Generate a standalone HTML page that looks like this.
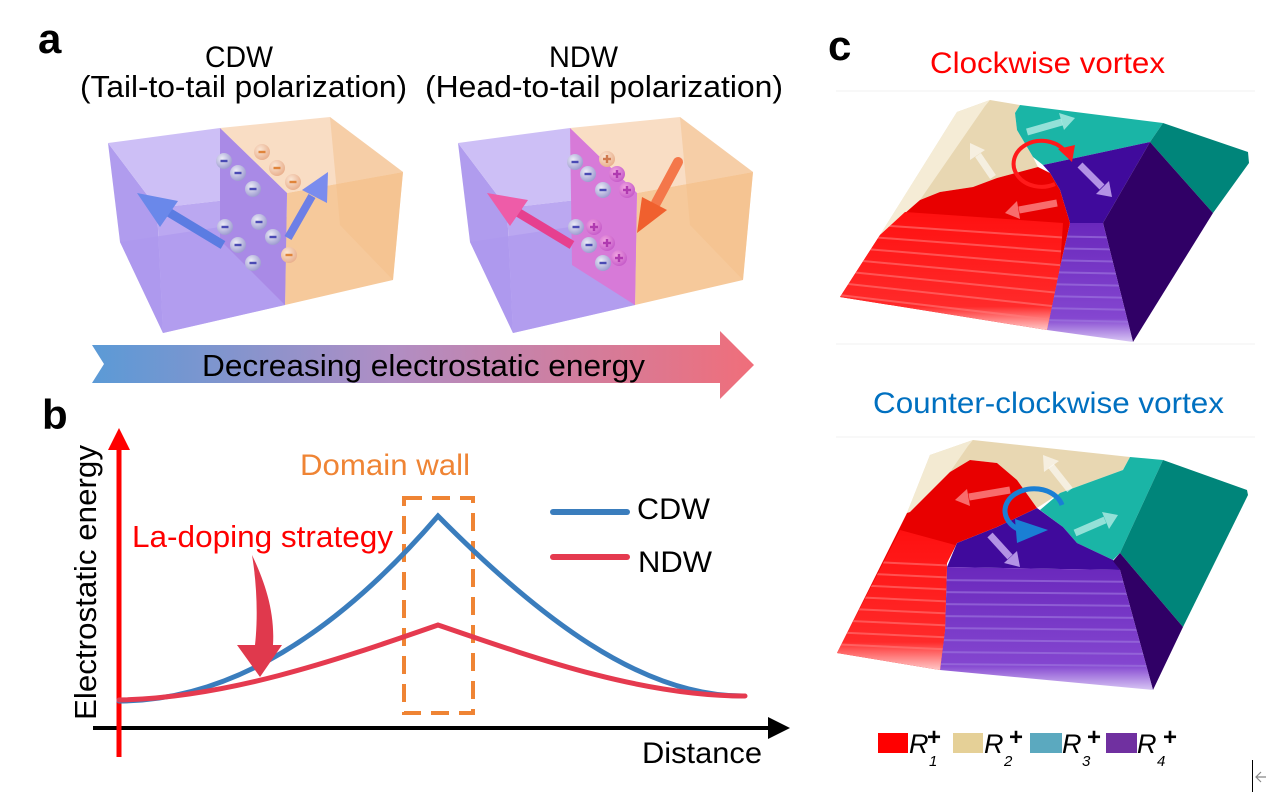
<!DOCTYPE html>
<html>
<head>
<meta charset="utf-8">
<style>
html,body{margin:0;padding:0;background:#fff;}
svg{display:block;}
text{font-family:"Liberation Sans",Arial,sans-serif;}
</style>
</head>
<body>
<svg width="1267" height="801" viewBox="0 0 1267 801" xmlns="http://www.w3.org/2000/svg">
<defs>
  <linearGradient id="bigArrow" x1="92" y1="0" x2="754" y2="0" gradientUnits="userSpaceOnUse">
    <stop offset="0" stop-color="#5b9ad6"/>
    <stop offset="0.45" stop-color="#b08ec4"/>
    <stop offset="1" stop-color="#f06e7a"/>
  </linearGradient>
  <radialGradient id="gb" cx="0.38" cy="0.35" r="0.7">
    <stop offset="0" stop-color="#ececf7"/>
    <stop offset="1" stop-color="#9a98cf"/>
  </radialGradient>
  <radialGradient id="go" cx="0.38" cy="0.35" r="0.7">
    <stop offset="0" stop-color="#fbe6d4"/>
    <stop offset="1" stop-color="#e8ad8a"/>
  </radialGradient>
  <radialGradient id="gp" cx="0.38" cy="0.35" r="0.7">
    <stop offset="0" stop-color="#f2a6e2"/>
    <stop offset="1" stop-color="#c458c8"/>
  </radialGradient>
  <g id="bm"><circle r="8" fill="url(#gb)"/><rect x="-3.5" y="-1.2" width="7" height="2.4" fill="#4a4ab4"/></g>
  <g id="om"><circle r="8" fill="url(#go)"/><rect x="-3.5" y="-1.2" width="7" height="2.4" fill="#e0843a"/></g>
  <g id="pp"><circle r="8" fill="url(#gp)"/><rect x="-4" y="-1.2" width="8" height="2.4" fill="#b03ab0"/><rect x="-1.2" y="-4" width="2.4" height="8" fill="#b03ab0"/></g>
  <g id="op"><circle r="8" fill="url(#go)"/><rect x="-4" y="-1.2" width="8" height="2.4" fill="#d07a50"/><rect x="-1.2" y="-4" width="2.4" height="8" fill="#d07a50"/></g>
  <linearGradient id="redLow" x1="0" y1="0" x2="0" y2="1">
    <stop offset="0" stop-color="#ff1010"/>
    <stop offset="0.8" stop-color="#ff2a2a"/>
    <stop offset="1" stop-color="#ffc8c8"/>
  </linearGradient>
  <linearGradient id="purLow" x1="0" y1="0" x2="0" y2="1">
    <stop offset="0" stop-color="#6a28bc"/>
    <stop offset="0.8" stop-color="#8446d0"/>
    <stop offset="1" stop-color="#d8c6f4"/>
  </linearGradient>
  <clipPath id="cRedTop"><path d="M905,212 L1063,223 L1060,267 L1047,330 L840,297 L880,235 Z"/></clipPath>
  <clipPath id="cPurTop"><path d="M1070,223 L1103,223 L1133,342 L1047,330 L1060,267 Z"/></clipPath>
  <clipPath id="cRedBot"><path d="M900,530 L955,545 L947,563 L945,630 L940,670 L837,653 Z"/></clipPath>
  <clipPath id="cPurBot"><path d="M947,567 L1120,570 L1153,690 L940,670 L945,630 Z"/></clipPath>
  <g id="box">
    <polygon points="108,143 157,208 163,333 120,242" fill="#b09cee"/>
    <polygon points="108,143 220,128 287,193 157,208" fill="#cdbff6"/>
    <polygon points="157,208 287,193 285,305 163,333" fill="#bba8f1"/>
    <polygon points="120,242 287,217 285,305 163,333" fill="#ae98ee" opacity="0.7"/>
    <polygon points="220,128 330,117 403,172 287,193" fill="#f9ddc4"/>
    <polygon points="287,193 403,172 393,280 285,305" fill="#f6c99b"/>
    <polygon points="330,117 403,172 393,280 340,225" fill="#f3c08a" opacity="0.5"/>
  </g>
</defs>

<rect width="1267" height="801" fill="#fff"/>

<!-- ============ Panel a ============ -->
<text x="38" y="53" font-size="42" font-weight="bold" fill="#000">a</text>
<text x="205" y="67" font-size="30" fill="#000" textLength="68" lengthAdjust="spacingAndGlyphs">CDW</text>
<text x="80" y="97" font-size="31" fill="#000" textLength="327" lengthAdjust="spacingAndGlyphs">(Tail-to-tail polarization)</text>
<text x="549" y="67" font-size="30" fill="#000" textLength="69" lengthAdjust="spacingAndGlyphs">NDW</text>
<text x="425" y="97" font-size="31" fill="#000" textLength="358" lengthAdjust="spacingAndGlyphs">(Head-to-tail polarization)</text>

<!-- CDW box -->
<g>
  <use href="#box"/>
  <polygon points="220,128 287,193 285,305 220,240" fill="#a98ae6"/>
  <use href="#om" x="262" y="152"/>
  <use href="#om" x="277" y="168"/>
  <use href="#om" x="293" y="182"/>
  <use href="#bm" x="224" y="161"/>
  <use href="#bm" x="238" y="173"/>
  <use href="#bm" x="253" y="189"/>
  <use href="#bm" x="259" y="222"/>
  <use href="#bm" x="273" y="237"/>
  <use href="#om" x="289" y="255"/>
  <use href="#bm" x="225" y="227"/>
  <use href="#bm" x="238" y="245"/>
  <use href="#bm" x="253" y="263"/>
  <line x1="223" y1="245" x2="165" y2="210" stroke="#5b7ce2" stroke-width="9"/>
  <polygon points="137,193 178,201 160,227" fill="#6a88ea"/>
  <line x1="288" y1="238" x2="312" y2="196" stroke="#6d7fe6" stroke-width="8"/>
  <polygon points="328,172 302,190 327,203" fill="#7a8cee"/>
</g>

<!-- NDW box -->
<g>
  <use href="#box" x="350"/>
  <polygon points="570,128 637,193 635,305 572,265" fill="#d77ad8"/>
  <use href="#op" x="607" y="159"/>
  <use href="#pp" x="617" y="174"/>
  <use href="#pp" x="627" y="190"/>
  <use href="#bm" x="575" y="162"/>
  <use href="#bm" x="588" y="174"/>
  <use href="#bm" x="603" y="190"/>
  <use href="#pp" x="594" y="227"/>
  <use href="#pp" x="607" y="243"/>
  <use href="#pp" x="619" y="258"/>
  <use href="#bm" x="576" y="227"/>
  <use href="#bm" x="589" y="245"/>
  <use href="#bm" x="603" y="263"/>
  <line x1="572" y1="245" x2="514" y2="210" stroke="#e6408f" stroke-width="9"/>
  <polygon points="487,193 528,200 510,226" fill="#ee5ca8"/>
  <line x1="678" y1="162" x2="656" y2="203" stroke="#f4774a" stroke-width="10" stroke-linecap="round"/>
  <polygon points="637,233 642,197 667,210" fill="#f0602e"/>
</g>

<!-- big gradient arrow -->
<polygon points="92,345 720,345 720,331 754,365 720,399 720,383 92,383 104,364" fill="url(#bigArrow)"/>
<text x="202" y="376" font-size="31" fill="#000" textLength="443" lengthAdjust="spacingAndGlyphs">Decreasing electrostatic energy</text>

<!-- ============ Panel b ============ -->
<text x="42" y="429" font-size="42" font-weight="bold" fill="#000">b</text>

<line x1="93" y1="728" x2="770" y2="728" stroke="#000" stroke-width="4"/>
<polygon points="768,717 768,739 790,728" fill="#000"/>
<line x1="119" y1="447" x2="119" y2="757" stroke="#ff0000" stroke-width="5"/>
<polygon points="108,450 130,450 119,428" fill="#ff0000"/>

<text transform="translate(96,720) rotate(-90)" font-size="31" fill="#000" textLength="275" lengthAdjust="spacingAndGlyphs">Electrostatic energy</text>

<rect x="404" y="498" width="69" height="215" fill="none" stroke="#ef8434" stroke-width="4" stroke-dasharray="18 10"/>
<text x="300" y="475" font-size="30" fill="#ef8434" textLength="170" lengthAdjust="spacingAndGlyphs">Domain wall</text>

<path d="M119,701 Q278.5,701 438,516 C539,618 641,696 742,696" fill="none" stroke="#3a7dbd" stroke-width="5" stroke-linecap="round"/>
<path d="M119,700 C225,698 332,662 438,625 C540,660 643,696 745,696" fill="none" stroke="#e53a4f" stroke-width="5" stroke-linecap="round"/>

<path d="M252,555 C265,582 275,612 273,645 L282,645 L260,677 L237,645 L255,645 C258,618 257,585 252,555 Z" fill="#e0394d"/>
<text x="132" y="547" font-size="31" fill="#ff0000" textLength="261" lengthAdjust="spacingAndGlyphs">La-doping strategy</text>

<line x1="553" y1="512" x2="627" y2="512" stroke="#3a7dbd" stroke-width="6" stroke-linecap="round"/>
<text x="637" y="519" font-size="30" fill="#000" textLength="73" lengthAdjust="spacingAndGlyphs">CDW</text>
<line x1="553" y1="557" x2="627" y2="557" stroke="#e53a4f" stroke-width="6" stroke-linecap="round"/>
<text x="638" y="572" font-size="30" fill="#000" textLength="74" lengthAdjust="spacingAndGlyphs">NDW</text>

<text x="642" y="763" font-size="30" fill="#000" textLength="120" lengthAdjust="spacingAndGlyphs">Distance</text>

<!-- ============ Panel c ============ -->
<text x="828" y="60" font-size="42" font-weight="bold" fill="#000">c</text>
<text x="930" y="73" font-size="30" fill="#ff0000" textLength="235" lengthAdjust="spacingAndGlyphs">Clockwise vortex</text>
<text x="873" y="413" font-size="30" fill="#0070c0" textLength="351" lengthAdjust="spacingAndGlyphs">Counter-clockwise vortex</text>

<line x1="836" y1="91" x2="1255" y2="91" stroke="#f2f2f2" stroke-width="1"/>
<line x1="836" y1="344" x2="1255" y2="344" stroke="#f2f2f2" stroke-width="1"/>
<line x1="836" y1="437" x2="1255" y2="437" stroke="#f2f2f2" stroke-width="1"/>

<!-- top image -->
<g>
  <path d="M957,112 L990,100 L1020,105 L1015,113 L1017,130 L1033,157 L1038,167 L997,178 L973,187 L940,192 L920,200 L880,235 Z" fill="#e8d7b2"/>
  <path d="M957,112 L990,100 L985,106 L920,200 L880,235 Z" fill="#f5ecd6"/>
  <path d="M1020,105 L1163,123 L1150,142 L1043,165 L1033,157 L1017,130 L1015,113 Z" fill="#1ab5a6"/>
  <path d="M1163,123 L1248,152 L1249,163 L1213,213 L1150,142 Z" fill="#00857a"/>
  <path d="M1043,165 L1150,142 L1103,223 L1070,223 L1060,190 L1050,173 Z" fill="#400a9c"/>
  <path d="M1150,142 L1213,213 L1133,342 L1103,223 Z" fill="#300066"/>
  <path d="M1070,223 L1103,223 L1133,342 L1047,330 L1060,267 Z" fill="url(#purLow)"/>
  <g clip-path="url(#cPurTop)" stroke="#a07ae0" stroke-width="2" opacity="0.6">
    <line x1="1040" y1="236" x2="1140" y2="238"/>
    <line x1="1040" y1="248" x2="1140" y2="250"/>
    <line x1="1040" y1="260" x2="1140" y2="262"/>
    <line x1="1040" y1="272" x2="1140" y2="274"/>
    <line x1="1040" y1="284" x2="1140" y2="286"/>
    <line x1="1040" y1="296" x2="1140" y2="298"/>
    <line x1="1040" y1="308" x2="1140" y2="310"/>
    <line x1="1040" y1="320" x2="1140" y2="322"/>
  </g>
  <path d="M920,200 L940,192 L973,187 L997,178 L1038,167 L1050,173 L1060,190 L1070,223 L1060,267 L1047,330 L840,297 L880,235 Z" fill="#e80000"/>
  <path d="M905,212 L1063,223 L1060,267 L1047,330 L840,297 L880,235 Z" fill="url(#redLow)"/>
  <g clip-path="url(#cRedTop)" stroke="#ff8080" stroke-width="2" opacity="0.55">
    <line x1="830" y1="222" x2="1070" y2="238"/>
    <line x1="830" y1="234" x2="1070" y2="252"/>
    <line x1="830" y1="246" x2="1070" y2="266"/>
    <line x1="830" y1="258" x2="1070" y2="280"/>
    <line x1="830" y1="270" x2="1070" y2="294"/>
    <line x1="830" y1="282" x2="1070" y2="308"/>
    <line x1="830" y1="294" x2="1070" y2="322"/>
  </g>
  <line x1="1027" y1="132" x2="1062" y2="122" stroke="#c8f4ee" stroke-width="7" opacity="0.7"/>
  <polygon points="1075,118 1064,130 1059,113" fill="#c8f4ee" opacity="0.7"/>
  <line x1="993" y1="177" x2="978" y2="155" stroke="#ffffff" stroke-width="7" opacity="0.6"/>
  <polygon points="970,143 985,150 970,160" fill="#ffffff" opacity="0.6"/>
  <line x1="1080" y1="165" x2="1102" y2="187" stroke="#c8aaf2" stroke-width="7" opacity="0.85"/>
  <polygon points="1112,197 1096,194 1109,181" fill="#c8aaf2" opacity="0.85"/>
  <line x1="1057" y1="203" x2="1019" y2="210" stroke="#ff9a9a" stroke-width="7" opacity="0.7"/>
  <polygon points="1005,213 1020,219 1017,201" fill="#ff9a9a" opacity="0.7"/>
  <path d="M1055,184 A28,23 0 1 1 1064,150" fill="none" stroke="#ff1a1a" stroke-width="4"/>
  <polygon points="1058,149 1075,145 1072,162" fill="#ff1a1a"/>
</g>

<!-- bottom image -->
<g>
  <path d="M930,455 L973,440 L1130,457 L1123,470 L1060,493 L1037,508 L1017,480 L997,463 L970,460 L950,472 L910,512 L907,513 Z" fill="#e8d7b2"/>
  <path d="M930,455 L973,440 L968,446 L950,472 L910,512 L907,513 Z" fill="#f3ead2"/>
  <path d="M1130,457 L1163,460 L1120,553 L1113,560 L1077,543 L1063,527 L1040,510 L1060,493 L1123,470 Z" fill="#1ab5a6"/>
  <path d="M1163,460 L1247,490 L1248,495 L1183,627 L1120,553 Z" fill="#00857a"/>
  <path d="M1037,508 L1063,527 L1077,543 L1113,560 L1120,570 L947,567 L957,543 L997,527 Z" fill="#400a9c"/>
  <path d="M1113,561 L1120,553 L1183,627 L1153,690 L1120,570 Z" fill="#300066"/>
  <path d="M947,567 L1120,570 L1153,690 L940,670 L945,630 Z" fill="url(#purLow)"/>
  <g clip-path="url(#cPurBot)" stroke="#a07ae0" stroke-width="2" opacity="0.6">
    <line x1="930" y1="580" x2="1160" y2="582"/>
    <line x1="930" y1="592" x2="1160" y2="594"/>
    <line x1="930" y1="604" x2="1160" y2="606"/>
    <line x1="930" y1="616" x2="1160" y2="618"/>
    <line x1="930" y1="628" x2="1160" y2="630"/>
    <line x1="930" y1="640" x2="1160" y2="642"/>
    <line x1="930" y1="652" x2="1160" y2="654"/>
    <line x1="930" y1="664" x2="1160" y2="666"/>
  </g>
  <path d="M970,460 L997,463 L1017,480 L1037,508 L997,527 L957,543 L947,563 L945,630 L940,670 L837,653 L907,513 L910,512 L950,472 Z" fill="#e80000"/>
  <path d="M900,530 L955,545 L947,563 L945,630 L940,670 L837,653 Z" fill="url(#redLow)"/>
  <g clip-path="url(#cRedBot)" stroke="#ff8080" stroke-width="2" opacity="0.55">
    <line x1="830" y1="560" x2="960" y2="566"/>
    <line x1="830" y1="572" x2="960" y2="578"/>
    <line x1="830" y1="584" x2="960" y2="590"/>
    <line x1="830" y1="596" x2="960" y2="602"/>
    <line x1="830" y1="608" x2="960" y2="614"/>
    <line x1="830" y1="620" x2="960" y2="626"/>
    <line x1="830" y1="632" x2="960" y2="638"/>
    <line x1="830" y1="644" x2="960" y2="650"/>
  </g>
  <line x1="1070" y1="490" x2="1051" y2="466" stroke="#ffffff" stroke-width="7" opacity="0.6"/>
  <polygon points="1043,455 1059,461 1044,472" fill="#ffffff" opacity="0.6"/>
  <line x1="1010" y1="490" x2="969" y2="497" stroke="#ff9a9a" stroke-width="7" opacity="0.7"/>
  <polygon points="955,500 970,506 967,489" fill="#ff9a9a" opacity="0.7"/>
  <line x1="1075" y1="533" x2="1105" y2="520" stroke="#c8f4ee" stroke-width="7" opacity="0.7"/>
  <polygon points="1118,515 1109,529 1102,512" fill="#c8f4ee" opacity="0.7"/>
  <line x1="990" y1="535" x2="1010" y2="557" stroke="#c8aaf2" stroke-width="7" opacity="0.85"/>
  <polygon points="1020,567 1004,563 1017,551" fill="#c8aaf2" opacity="0.85"/>
  <path d="M1062,505 A29,22 0 1 0 1020,530" fill="none" stroke="#1a7fd4" stroke-width="5"/>
  <polygon points="1015,519 1048,530 1017,543" fill="#1a7fd4"/>
</g>

<!-- legend c -->
<rect x="878" y="733" width="30" height="20" fill="#ff0000"/>
<text x="909" y="753" font-size="27" font-style="italic" fill="#000">R</text>
<text x="927" y="745" font-size="24" font-weight="bold" fill="#000">+</text>
<text x="929" y="766" font-size="15" font-style="italic" fill="#000">1</text>

<rect x="953" y="733" width="30" height="20" fill="#e5d097"/>
<text x="984" y="753" font-size="27" font-style="italic" fill="#000">R</text>
<text x="1009" y="745" font-size="24" font-weight="bold" fill="#000">+</text>
<text x="1004" y="766" font-size="15" font-style="italic" fill="#000">2</text>

<rect x="1030" y="733" width="32" height="20" fill="#5ba9bf"/>
<text x="1062" y="753" font-size="27" font-style="italic" fill="#000">R</text>
<text x="1087" y="745" font-size="24" font-weight="bold" fill="#000">+</text>
<text x="1082" y="766" font-size="15" font-style="italic" fill="#000">3</text>

<rect x="1106" y="733" width="31" height="20" fill="#7030a0"/>
<text x="1137" y="753" font-size="27" font-style="italic" fill="#000">R</text>
<text x="1163" y="745" font-size="24" font-weight="bold" fill="#000">+</text>
<text x="1157" y="766" font-size="15" font-style="italic" fill="#000">4</text>

<line x1="1252.5" y1="760" x2="1252.5" y2="792" stroke="#000" stroke-width="1"/>
<path d="M1266,777 L1256,777 M1261,772 L1256,777 L1261,782" fill="none" stroke="#888" stroke-width="1.2"/>
</svg>
</body>
</html>
